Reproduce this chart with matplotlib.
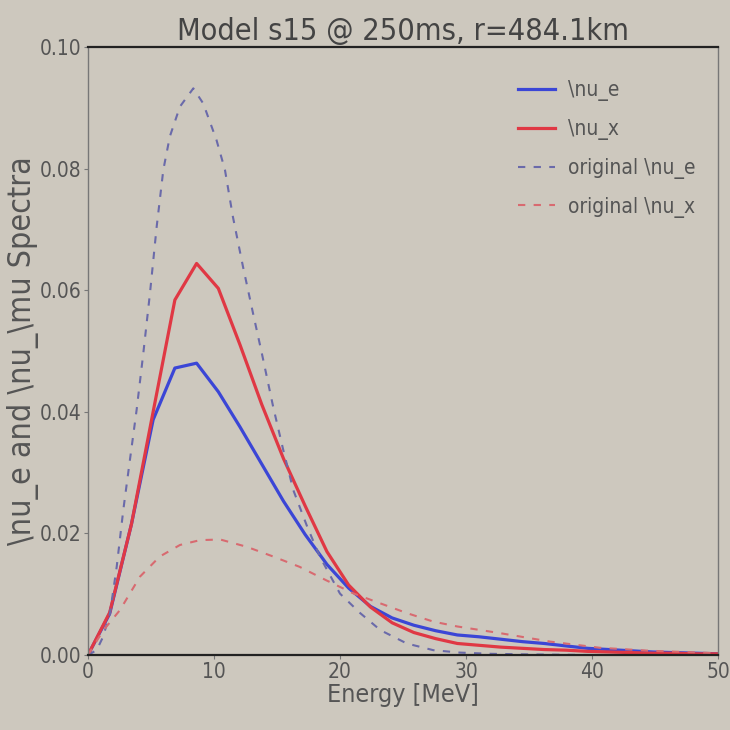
import matplotlib
matplotlib.use("Agg")
import matplotlib.pyplot as plt
import numpy as np

# energy grid of the two evolved spectra [MeV]
energy = [0.0, 1.724, 3.448, 5.172, 6.897, 8.621, 10.345, 12.069, 13.793, 15.517,
          17.241, 18.966, 20.690, 22.414, 24.138, 25.862, 27.586, 29.310, 31.034, 32.759,
          34.483, 36.207, 37.931, 39.655, 41.379, 43.103, 44.828, 46.552, 48.276, 50.0]

nu_e = [0.0, 0.0068, 0.0215, 0.0387, 0.0472, 0.0480, 0.0433, 0.0375, 0.0314, 0.0253,
        0.0198, 0.0149, 0.0110, 0.0080, 0.0061, 0.0049, 0.0040, 0.0033, 0.0030, 0.0026,
        0.0022, 0.0019, 0.0015, 0.0011, 0.0009, 0.0007, 0.0005, 0.0004, 0.0003, 0.0002]

nu_x = [0.0, 0.0070, 0.0215, 0.0400, 0.0584, 0.0644, 0.0603, 0.0510, 0.0412, 0.0323,
        0.0245, 0.0170, 0.0115, 0.0079, 0.0053, 0.0037, 0.0027, 0.0019, 0.0016, 0.0013,
        0.0011, 0.0009, 0.0008, 0.0006, 0.0005, 0.0004, 0.0003, 0.0003, 0.0002, 0.0002]

# original (unoscillated) spectra, read on a finer grid
orig_e_energy = [0.0, 0.69, 1.2, 1.75, 2.28, 2.8, 3.33, 3.86, 4.39, 4.92, 5.45, 5.98,
                 6.5, 7.3, 8.36, 9.15, 10.2, 10.87, 11.5, 12.3, 13.1, 13.8, 14.7, 15.5,
                 16.3, 17.4, 18.4, 20.0, 21.6, 23.2, 25.3, 27.4, 29.5, 32.0, 35.0, 40.0, 50.0]
orig_nu_e = [0.0, 0.0008, 0.0030, 0.0069, 0.0145, 0.0238, 0.0321, 0.0403, 0.0496, 0.0595,
             0.0704, 0.0798, 0.0853, 0.0902, 0.0932, 0.0907, 0.0847, 0.0798, 0.0721, 0.0639,
             0.0562, 0.0496, 0.0408, 0.0337, 0.0271, 0.0211, 0.0162, 0.0101, 0.0069, 0.0041,
             0.0019, 0.0008, 0.0004, 0.0002, 0.0001, 0.0, 0.0]

orig_x_energy = [0.0, 1.2, 2.54, 4.13, 5.7, 7.3, 8.9, 10.5, 12.6, 14.7, 16.8, 18.9,
                 21.1, 23.2, 25.3, 27.4, 29.3, 32.7, 36.7, 40.6, 44.6, 50.0]
orig_nu_x = [0.0, 0.0040, 0.0074, 0.0129, 0.0162, 0.0181, 0.0189, 0.0190, 0.0178, 0.0162,
             0.0145, 0.0123, 0.0101, 0.0085, 0.0069, 0.0055, 0.0047, 0.0036, 0.0022, 0.0012,
             0.0007, 0.0003]

bg = "#cdc8be"
plt.rcParams['font.family'] = ['DejaVu Sans']
plt.rcParams['font.stretch'] = 'condensed'

fig = plt.figure(figsize=(7.3, 7.3), dpi=100, facecolor=bg)
ax = fig.add_axes([0.1205, 0.1027, 0.8631, 0.8329], facecolor=bg)

ax.plot(energy, nu_e, color="#3b46d6", lw=2.3, label="\\nu_e")
ax.plot(energy, nu_x, color="#e03844", lw=2.3, label="\\nu_x")
ax.plot(orig_e_energy, orig_nu_e, color="#6a6aaa", lw=1.5, dashes=(3.5, 4), label="original \\nu_e")
ax.plot(orig_x_energy, orig_nu_x, color="#d86a70", lw=1.5, dashes=(3.5, 4), label="original \\nu_x")

ax.set_xlim(0, 50)
ax.set_ylim(0, 0.10)
ax.set_xticks([0, 10, 20, 30, 40, 50])
ax.set_yticks([0.0, 0.02, 0.04, 0.06, 0.08, 0.10])
ax.set_yticklabels(["%.2f" % v for v in ax.get_yticks()])
ax.tick_params(labelsize=15, labelcolor="#555555", color="#777777", length=3, pad=2)

for s in ["left", "right"]:
    ax.spines[s].set_color("#777777")
    ax.spines[s].set_linewidth(1.0)
for s in ["top", "bottom"]:
    ax.spines[s].set_color("#222222")
    ax.spines[s].set_linewidth(1.6)

ax.set_title("Model s15 @ 250ms, r=484.1km", fontsize=22, color="#444444", pad=5)
ax.set_xlabel("Energy [MeV]", fontsize=18, color="#555555", labelpad=1)
ax.set_ylabel("\\nu_e and \\nu_\\mu Spectra", fontsize=23, color="#555555", labelpad=0)

leg = ax.legend(loc="upper left", bbox_to_anchor=(0.6825, 0.945), frameon=False,
                fontsize=15, labelspacing=0.85, handlelength=1.8, handletextpad=0.58,
                borderpad=0, borderaxespad=0)
for t in leg.get_texts():
    t.set_color("#555555")

fig.savefig("out.png", dpi=100, facecolor=bg)
